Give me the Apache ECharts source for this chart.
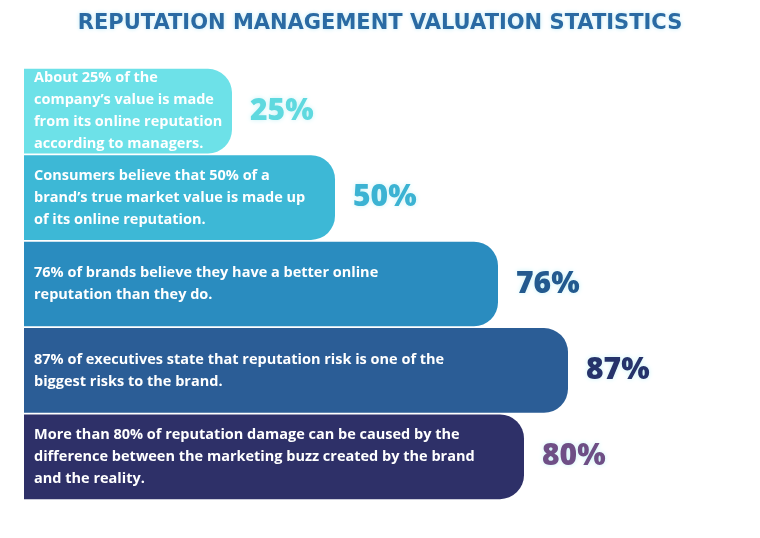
<!DOCTYPE html>
<html>
<head>
<meta charset="utf-8">
<title>Reputation Management Valuation Statistics</title>
<script src="https://cdn.jsdelivr.net/npm/echarts@6/dist/echarts.min.js"></script>
<style>html,body{margin:0;padding:0;background:#fff}#chart{width:760px;height:538px}</style>
</head>
<body>
<div id="chart"></div>
<script>
// statements shown on each bar (top to bottom)
var statements = [
    'About 25% of the\ncompany\u2019s value is made\nfrom its online reputation\naccording to managers.',
    'Consumers believe that 50% of a\nbrand\u2019s true market value is made up\nof its online reputation.',
    '76% of brands believe they have a better online\nreputation than they do.',
    '87% of executives state that reputation risk is one of the\nbiggest risks to the brand.',
    'More than 80% of reputation damage can be caused by the\ndifference between the marketing buzz created by the brand\nand the reality.'
];
var percents = [25, 50, 76, 87, 80];
// visible bar lengths (bars are sized to fit text, not to the percent)
var barLength = [208, 311, 474, 544, 500];
var barColors = ['#6de1e8', '#3db8d6', '#2a8cbf', '#2b5d96', '#2e3068'];
var labelColors = ['#5fd9df', '#3bb3d3', '#235a8f', '#26336b', '#6e4f86'];

var chart = echarts.init(document.getElementById('chart'));
chart.setOption({
    animation: false,
    title: {
        text: 'REPUTATION MANAGEMENT VALUATION STATISTICS',
        left: 'center', top: 8,
        textStyle: {
            fontFamily: 'DejaVu Sans', fontWeight: 'bold', fontSize: 21,
            color: '#2a6aa3', textShadowColor: '#bfeaf5', textShadowBlur: 4
        }
    },
    grid: {left: 24, right: 0, top: 68, bottom: 38},
    xAxis: {type: 'value', min: 0, max: 736, show: false},
    yAxis: {type: 'category', inverse: true, data: statements, show: false},
    series: [{
        type: 'bar',
        barCategoryGap: '2%',
        data: barLength.map(function (v, i) {
            return {
                value: v,
                itemStyle: {color: barColors[i], borderRadius: [0, 24, 24, 0]},
                label: {color: labelColors[i], formatter: percents[i] + '%'}
            };
        }),
        label: {
            show: true, position: 'right', distance: 18,
            fontFamily: 'Open Sans', fontWeight: 900, fontSize: 30,
            textShadowColor: '#c9f3f7', textShadowBlur: 5
        }
    }, {
        type: 'bar',
        barGap: '-100%',
        barCategoryGap: '2%',
        silent: true,
        itemStyle: {color: 'transparent'},
        data: barLength,
        label: {
            show: true, position: 'insideLeft', distance: 10,
            formatter: function (p) { return statements[p.dataIndex]; },
            fontFamily: 'Open Sans', fontWeight: 'bold', fontSize: 14.5,
            lineHeight: 22, color: '#ffffff'
        }
    }]
});
</script>
</body>
</html>
